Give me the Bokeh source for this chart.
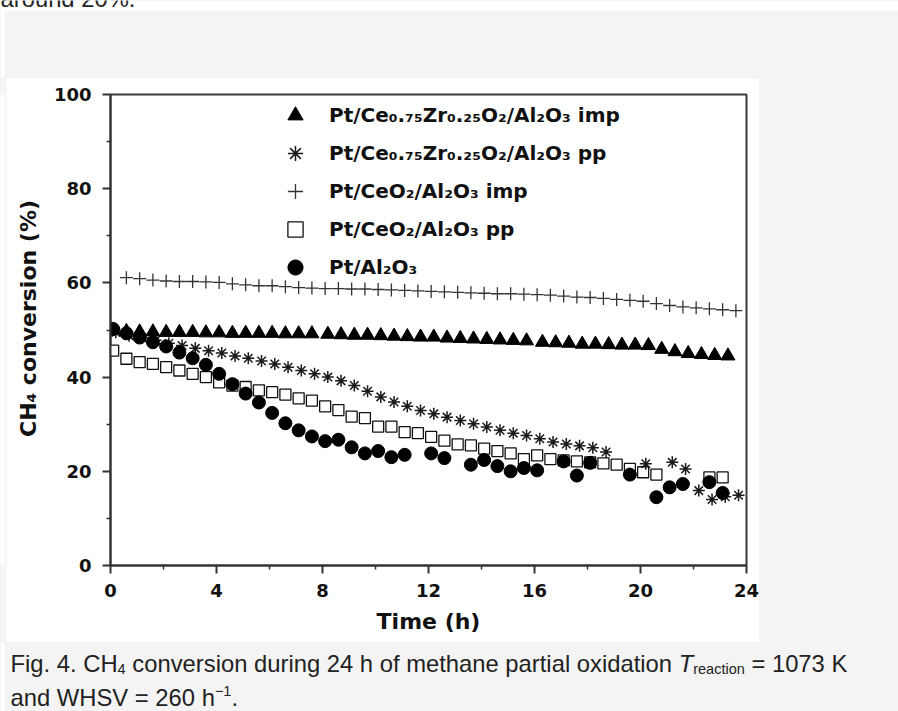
from bokeh.plotting import figure
from bokeh.layouts import column, row
from bokeh.models import Range1d, FixedTicker, Legend, LegendItem
from bokeh.core.properties import value
from bokeh.embed import file_html
from bokeh.resources import INLINE

# ---------------- data ----------------
x_ticks = [0, 4, 8, 12, 16, 20, 24]
x_minor = [2, 6, 10, 14, 18, 22]
y_ticks = [0, 20, 40, 60, 80, 100]
y_minor = [10, 30, 50, 70, 90]

# Pt/Ce0.75Zr0.25O2/Al2O3 imp (filled triangles)
t_tri = [0.1, 0.6, 1.1, 1.6, 2.1, 2.6, 3.1, 3.6, 4.1, 4.6, 5.1, 5.6, 6.1, 6.6, 7.1, 7.6,
         8.2, 8.7, 9.2, 9.7, 10.2, 10.7, 11.2, 11.7, 12.2, 12.7, 13.2, 13.7, 14.2, 14.7, 15.2, 15.7,
         16.3, 16.8, 17.3, 17.8, 18.3, 18.8, 19.3, 19.8, 20.3, 20.8, 21.3, 21.8, 22.3, 22.8, 23.3]
v_tri = [50.0, 49.7, 49.6, 49.6, 49.5, 49.5, 49.5, 49.4, 49.4, 49.3, 49.3, 49.3, 49.3, 49.2, 49.2, 49.2,
         49.1, 49.0, 48.9, 48.9, 48.8, 48.7, 48.6, 48.5, 48.5, 48.3, 48.2, 48.1, 48.0, 47.9, 47.8, 47.7,
         47.4, 47.3, 47.2, 47.0, 47.0, 46.9, 46.8, 46.8, 46.7, 45.9, 45.4, 45.0, 44.8, 44.6, 44.5]

# Pt/Ce0.75Zr0.25O2/Al2O3 pp (asterisks)
t_ast = [0.2, 0.7, 1.2, 1.7, 2.2, 2.7, 3.2, 3.7, 4.2, 4.7, 5.2, 5.7, 6.2, 6.7, 7.2, 7.7,
         8.2, 8.7, 9.2, 9.7, 10.2, 10.7, 11.2, 11.7, 12.2, 12.7, 13.2, 13.7, 14.2, 14.7, 15.2, 15.7,
         16.2, 16.7, 17.2, 17.7, 18.2, 18.7, 20.2, 21.2, 21.7, 22.2, 22.7, 23.2, 23.7]
v_ast = [49.5, 48.8, 48.3, 47.8, 47.2, 46.7, 46.1, 45.6, 45.1, 44.5, 44.0, 43.4, 42.8, 42.1, 41.4, 40.7,
         40.0, 39.2, 38.2, 37.0, 35.8, 34.7, 33.8, 32.9, 32.2, 31.5, 30.8, 30.1, 29.4, 28.7, 28.1, 27.6,
         26.9, 26.2, 25.8, 25.4, 25.0, 24.1, 21.6, 21.9, 20.5, 15.9, 14.0, 14.6, 14.9]

# Pt/CeO2/Al2O3 imp (plus signs)
t_crs = [0.6, 1.1, 1.6, 2.1, 2.6, 3.1, 3.6, 4.1, 4.6, 5.1, 5.6, 6.1, 6.6, 7.1, 7.6, 8.1,
         8.6, 9.1, 9.6, 10.1, 10.6, 11.1, 11.6, 12.1, 12.6, 13.1, 13.6, 14.1, 14.6, 15.1, 15.6, 16.1,
         16.6, 17.1, 17.6, 18.1, 18.6, 19.1, 19.6, 20.1, 20.6, 21.1, 21.6, 22.1, 22.6, 23.1, 23.6]
v_crs = [61.1, 60.9, 60.6, 60.4, 60.3, 60.3, 60.2, 60.1, 59.8, 59.6, 59.4, 59.4, 59.2, 59.0, 58.9, 58.8,
         58.8, 58.7, 58.7, 58.6, 58.5, 58.4, 58.3, 58.2, 58.1, 58.0, 57.9, 57.8, 57.7, 57.7, 57.6, 57.5,
         57.4, 57.2, 57.0, 56.9, 56.7, 56.5, 56.3, 56.1, 55.6, 55.2, 54.9, 54.7, 54.5, 54.3, 54.1]

# Pt/CeO2/Al2O3 pp (open squares)
t_sq = [0.1, 0.6, 1.1, 1.6, 2.1, 2.6, 3.1, 3.6, 4.1, 4.6, 5.1, 5.6, 6.1, 6.6, 7.1, 7.6,
        8.1, 8.6, 9.1, 9.6, 10.1, 10.6, 11.1, 11.6, 12.1, 12.6, 13.1, 13.6, 14.1, 14.6, 15.1, 15.6,
        16.1, 16.6, 17.1, 17.6, 18.1, 18.6, 19.1, 19.6, 20.1, 20.6, 22.6, 23.1]
v_sq = [45.6, 43.9, 43.2, 42.8, 42.1, 41.4, 40.7, 40.0, 38.9, 38.2, 37.9, 37.2, 36.8, 36.3, 35.5, 35.0,
        33.8, 33.0, 31.6, 31.3, 29.5, 29.5, 28.3, 28.1, 27.3, 26.5, 25.7, 25.5, 24.8, 24.3, 23.8, 22.6,
        23.4, 22.6, 22.3, 22.1, 21.9, 21.7, 21.4, 20.5, 19.8, 19.3, 18.7, 18.7]

# Pt/Al2O3 (filled circles)
t_cir = [0.1, 0.6, 1.1, 1.6, 2.1, 2.6, 3.1, 3.6, 4.1, 4.6, 5.1, 5.6, 6.1, 6.6, 7.1, 7.6,
         8.1, 8.6, 9.1, 9.6, 10.1, 10.6, 11.1, 12.1, 12.6, 13.6, 14.1, 14.6, 15.1, 15.6, 16.1,
         17.1, 17.6, 18.1, 19.6, 20.6, 21.1, 21.6, 22.6, 23.1]
v_cir = [50.2, 49.3, 48.4, 47.4, 46.5, 45.2, 44.0, 42.6, 40.7, 38.5, 36.5, 34.6, 32.4, 30.2, 28.7, 27.4,
         26.4, 26.7, 25.1, 23.8, 24.3, 23.0, 23.5, 23.8, 22.8, 21.4, 22.4, 21.1, 20.0, 20.7, 20.2,
         22.1, 19.1, 21.8, 19.3, 14.5, 16.6, 17.3, 17.7, 15.4]

labels = ["Pt/Ce\u2080.\u2087\u2085Zr\u2080.\u2082\u2085O\u2082/Al\u2082O\u2083 imp",
          "Pt/Ce\u2080.\u2087\u2085Zr\u2080.\u2082\u2085O\u2082/Al\u2082O\u2083 pp",
          "Pt/CeO\u2082/Al\u2082O\u2083 imp",
          "Pt/CeO\u2082/Al\u2082O\u2083 pp",
          "Pt/Al\u2082O\u2083"]

# ---------------- page geometry ----------------
W, H = 898, 711
TOP_H = 78                      # strip above the white chart panel
PANEL_L, PANEL_W, PANEL_H = 6, 753, 564
BOT_H = H - TOP_H - PANEL_H
GRAY = "#f4f4f4"
BOLD = "DejaVu Sans"
CAP = "Liberation Sans"


def blank(width, height, y0, y1, x0=0):
    f = figure(width=width, height=height, output_backend="svg", toolbar_location=None,
               x_range=Range1d(x0, x0 + width), y_range=Range1d(y1, y0),
               x_axis_type=None, y_axis_type=None, min_border=0)
    f.outline_line_color = None
    f.background_fill_color = GRAY
    f.border_fill_color = GRAY
    f.grid.visible = False
    return f


# ---------------- main chart ----------------
# frame in page pixels: left 110, right 746, top 94, bottom 565
p = figure(width=PANEL_W, height=PANEL_H, output_backend="svg", toolbar_location=None,
           x_range=Range1d(x_ticks[0], x_ticks[-1]), y_range=Range1d(y_ticks[0], y_ticks[-1]),
           min_border_left=110 - PANEL_L, min_border_right=PANEL_L + PANEL_W - 746,
           min_border_top=94 - TOP_H, min_border_bottom=TOP_H + PANEL_H - 565)
p.border_fill_color = "white"
p.background_fill_color = "white"
p.grid.visible = False
p.outline_line_color = "#3a3a3a"
p.outline_line_width = 2

p.xaxis.ticker = FixedTicker(ticks=x_ticks, minor_ticks=x_minor)
p.yaxis.ticker = FixedTicker(ticks=y_ticks, minor_ticks=y_minor)
for ax in (p.xaxis[0], p.yaxis[0]):
    ax.axis_line_color = "#333333"
    ax.axis_line_width = 2
    ax.major_tick_line_color = "#333333"
    ax.major_tick_line_width = 2
    ax.major_tick_out = 8
    ax.major_tick_in = 0
    ax.minor_tick_line_color = "#333333"
    ax.minor_tick_line_width = 1.5
    ax.minor_tick_out = 4
    ax.minor_tick_in = 0
    ax.major_label_text_font = BOLD
    ax.major_label_text_font_style = "bold"
    ax.major_label_text_font_size = "18px"
    ax.major_label_text_color = "#111111"
    ax.axis_label_text_font = BOLD
    ax.axis_label_text_font_style = "bold"
    ax.axis_label_text_font_size = "22px"
    ax.axis_label_text_color = "#111111"
p.yaxis.major_label_standoff = 11
p.xaxis.major_label_standoff = 10
p.xaxis.axis_label = "Time (h)"
p.xaxis.axis_label_standoff = 9
# leading no-break spaces nudge the centred label upwards, as in the original
p.yaxis.axis_label = "\u00a0\u00a0\u00a0CH\u2084 conversion (%)"
p.yaxis.axis_label_standoff = 10

r_tri = p.scatter(t_tri, v_tri, marker="triangle", size=14, fill_color="black", line_color="black")
r_crs = p.scatter(t_crs, v_crs, marker="cross", size=13, line_color="#333333", line_width=1.3)
r_sq = p.scatter(t_sq, v_sq, marker="square", size=11, fill_color="white", line_color="#111111", line_width=1.3)
r_ast = p.scatter(t_ast, v_ast, marker="asterisk", size=12, line_color="#1a1a1a", line_width=1.5)
r_cir = p.scatter(t_cir, v_cir, marker="circle", size=13, fill_color="black", line_color="black")

legend = Legend(items=[LegendItem(label=labels[0], renderers=[r_tri]),
                       LegendItem(label=labels[1], renderers=[r_ast]),
                       LegendItem(label=labels[2], renderers=[r_crs]),
                       LegendItem(label=labels[3], renderers=[r_sq]),
                       LegendItem(label=labels[4], renderers=[r_cir])],
                location=(162, 275), glyph_width=38, glyph_height=38, label_height=38,
                spacing=0, padding=4, margin=0, label_standoff=15,
                label_text_font=BOLD, label_text_font_style="bold", label_text_font_size="20px",
                label_text_color="#111111", border_line_alpha=0, background_fill_alpha=0)
p.add_layout(legend)

# ---------------- page strips and caption ----------------
ARIAL = {' ': 278, '.': 278, '=': 584, '%': 889, '\u2212': 584, 'F': 611, 'C': 722, 'H': 722,
         'T': 611, 'K': 667, 'W': 944, 'S': 667, 'V': 667, 'a': 556, 'b': 556, 'c': 500, 'd': 556,
         'e': 556, 'f': 278, 'g': 556, 'h': 556, 'i': 222, 'l': 222, 'm': 833, 'n': 556, 'o': 556,
         'p': 556, 'r': 333, 's': 500, 't': 278, 'u': 556, 'v': 500, 'x': 500}
BIG, SMALL = 23.8, 14.5


def tw(s, size):
    return sum(ARIAL.get(ch, 556) for ch in s) * size / 1000.0


def line(f, segs, x0, mid):
    """Lay text segments side by side; mid is the vertical middle of the line."""
    x = x0
    for text, size, dy, style in segs:
        body = text.lstrip(" ")
        x += tw(text[:len(text) - len(body)], size)
        f.text(x=[x], y=[mid + dy], text=[body], text_font=value(CAP),
               text_font_size=value(f"{size}px"), text_font_style=value(style),
               text_color="#222222", text_baseline="middle", text_align="left")
        x += tw(body, size)


top = blank(W, TOP_H, 0, TOP_H)
top.quad(left=[0, 0], right=[W, 4], top=[0, 0], bottom=[10, TOP_H], fill_color="white", line_color=None)
line(top, [("around 20%.", BIG, 0, "normal")], 0, -2)

left = blank(PANEL_L, PANEL_H, 0, PANEL_H)
left.quad(left=[0], right=[4], top=[0], bottom=[PANEL_H], fill_color="white", line_color=None)
right = blank(W - PANEL_L - PANEL_W, PANEL_H, 0, PANEL_H)

y_bot0 = TOP_H + PANEL_H
bot = blank(W, BOT_H, y_bot0, H)
bot.quad(left=[0], right=[4], top=[y_bot0], bottom=[H], fill_color="white", line_color=None)
line(bot, [("Fig. 4. CH", BIG, 0, "normal"), ("4", SMALL, 5, "normal"),
           (" conversion during 24 h of methane partial oxidation ", BIG, 0, "normal"),
           ("T", BIG, 0, "italic"), ("reaction", SMALL, 5, "normal"),
           (" = 1073 K", BIG, 0, "normal")], 10, 663)
line(bot, [("and WHSV = 260 h", BIG, 0, "normal"), ("\u22121", SMALL, -7, "normal"),
           (".", BIG, 0, "normal")], 10, 697)

page = column(top, row(left, p, right, spacing=0), bot, spacing=0,
              styles={"background-color": GRAY})

open("out.html", "w").write(file_html(page, INLINE))
